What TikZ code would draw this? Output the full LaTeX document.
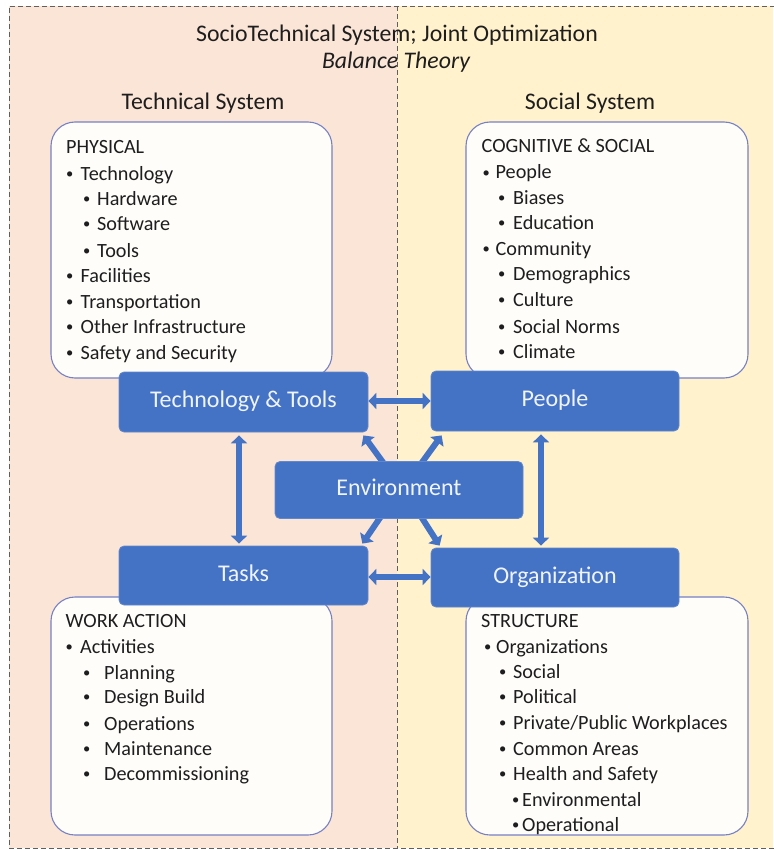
\documentclass[tikz,border=0pt]{standalone}
\usepackage{fontspec}
\setmainfont{Carlito}
\usetikzlibrary{arrows.meta,calc}
\definecolor{peach}{RGB}{251,229,214}
\definecolor{cream}{RGB}{255,242,204}
\definecolor{bblue}{RGB}{68,114,196}
\definecolor{bedge}{RGB}{96,136,206}
\definecolor{btxt}{RGB}{240,244,252}
\definecolor{wbord}{RGB}{118,128,196}
\definecolor{wfill}{RGB}{255,253,250}
\definecolor{txt}{RGB}{30,30,30}
\definecolor{dgray}{RGB}{95,95,95}
\pgfdeclarelayer{back}
\pgfdeclarelayer{mid}
\pgfsetlayers{back,mid,main}
\newcommand\smallbul{\raisebox{1.6pt}{\scalebox{0.72}{\textbullet}}}
\newcommand\listline[5]{\node[lt] (#1) at (#2,#3) {\makebox[#4pt][l]{\hspace{1pt}\smallbul}#5};}
\begin{document}
\begin{tikzpicture}[x=1pt,y=-1pt,
  wbox/.style={draw=wbord, line width=1.1pt, fill=wfill, rounded corners=24pt, inner sep=0pt},
  bbox/.style={draw=bedge, line width=0.8pt, fill=bblue, rounded corners=5pt, text=btxt,
    font=\fontsize{24}{27}\selectfont, inner sep=0pt, text height=15pt, text depth=4pt},
  lt/.style={anchor=base west, inner sep=0pt, text=txt, font=\fontsize{20.2}{24}\selectfont},
  ttl/.style={anchor=base, inner sep=0pt, text=txt, font=\fontsize{23.8}{27}\selectfont},
  hdr/.style={anchor=base, inner sep=0pt, text=txt, font=\fontsize{23.8}{27}\selectfont},
  barrow/.style={draw=bblue, line width=6pt, {Triangle[length=8pt,width=16pt]}-{Triangle[length=8pt,width=16pt]}},
  sarrow/.style={draw=bblue, line width=6pt, -{Triangle[length=8pt,width=16pt]}},
  dsh/.style={draw=dgray, line width=0.8pt, dash pattern=on 5pt off 3pt}]
\useasboundingbox (0,0) rectangle (773,850);
\begin{pgfonlayer}{back}
\fill[white] (0,0) rectangle (773,850);
\fill[peach] (9,6) rectangle (397,848);
\fill[cream] (397,6) rectangle (773,848);
\draw[dsh] (775,6) -- (9,6) -- (9,848) -- (775,848);
\draw[dsh] (397,6) -- (397,848);
\node[wbox, minimum width=281pt, minimum height=256pt] (phys) at (191.5,250) {};
\node[wbox, minimum width=282pt, minimum height=256pt] (cogn) at (607,250) {};
\node[wbox, minimum width=281pt, minimum height=238pt] (work) at (191.5,716) {};
\node[wbox, minimum width=282pt, minimum height=238pt] (struc) at (607,716) {};
\end{pgfonlayer}

% titles
\node[ttl] (title) at (397,41.5) {SocioTechnical System; Joint Optimization};
\node[ttl, font=\fontsize{23.8}{27}\selectfont\itshape] (bal) at (396,68.5) {Balance Theory};
\node[hdr] (techsys) at (203,110) {Technical System};
\node[hdr] (socsys) at (590,110) {Social System};

% blue boxes
\node[bbox, minimum width=249pt, minimum height=60pt] (tech) at (243.5,402) {Technology \& Tools};
\node[bbox, minimum width=248pt, minimum height=60pt] (people) at (555,401) {People};
\node[bbox, minimum width=248pt, minimum height=57pt] (env) at (399,490) {Environment};
\node[bbox, minimum width=249pt, minimum height=59pt] (tasks) at (243.5,575.5) {Tasks};
\node[bbox, minimum width=248pt, minimum height=59pt] (org) at (555,577.5) {Organization};

% arrows
\begin{pgfonlayer}{mid}
\draw[barrow] (tech.east |- 0,401) -- (people.west |- 0,401);
\draw[barrow] (tasks.east |- 0,577) -- (org.west |- 0,577);
\draw[barrow] ($(tech.south)+(-4.5,3)$) -- ($(tasks.north)+(-4.5,-2)$);
\draw[barrow] ($(people.south)+(-14,3)$) -- ($(org.north)+(-14,-2)$);
\draw[sarrow] ($(env.north)+(-14,4)$) -- ($(tech.south east)+(-5,3)$);
\draw[sarrow] ($(env.north)+(21,4)$) -- ($(people.south west)+(11,4)$);
\draw[sarrow] ($(env.south)+(-17,-4)$) -- ($(tasks.north east)+(-6,-2)$);
\draw[sarrow] ($(env.south)+(21,-4)$) -- ($(org.north west)+(9,-2)$);
\end{pgfonlayer}

% top-left list
\node[lt] (physh) at (66,153.5) {PHYSICAL};
\listline{p1}{65}{180.5}{15.5}{Technology}
\listline{p2}{82}{205.5}{15}{Hardware}
\listline{p3}{82}{230.5}{15}{Software}
\listline{p4}{82}{257.5}{15}{Tools}
\listline{p5}{65}{282.5}{15.5}{Facilities}
\listline{p6}{65}{308.5}{15.5}{Transportation}
\listline{p7}{65}{333.5}{15.5}{Other Infrastructure}
\listline{p8}{65}{359.5}{15.5}{Safety and Security}

% top-right list
\node[lt] (cognh) at (481.5,152.5) {COGNITIVE \& SOCIAL};
\listline{c1}{481.5}{179}{14}{People}
\listline{c2}{497}{204.5}{16}{Biases}
\listline{c3}{497}{229.5}{16}{Education}
\listline{c4}{481.5}{255.5}{14}{Community}
\listline{c5}{497}{280.5}{16}{Demographics}
\listline{c6}{497}{306.5}{16}{Culture}
\listline{c7}{497}{333}{16}{Social Norms}
\listline{c8}{497}{358}{16}{Climate}

% bottom-left list
\node[lt] (workh) at (65.5,627) {WORK ACTION};
\listline{w1}{64.5}{653}{15.5}{Activities}
\listline{w2}{82}{679}{22}{Planning}
\listline{w3}{82}{703.5}{22}{Design Build}
\listline{w4}{82}{730}{22}{Operations}
\listline{w5}{82}{755.5}{22}{Maintenance}
\listline{w6}{82}{780.5}{22}{Decommissioning}

% bottom-right list
\node[lt] (struch) at (481,627.5) {STRUCTURE};
\listline{s1}{483}{653.5}{13}{Organizations}
\listline{s2}{498}{678.5}{15}{Social}
\listline{s3}{498}{703.5}{15}{Political}
\listline{s4}{498}{729.5}{15}{Private/Public Workplaces}
\listline{s5}{498}{755.5}{15}{Common Areas}
\listline{s6}{498}{780.5}{15}{Health and Safety}
\listline{s7}{511}{806.5}{11}{Environmental}
\listline{s8}{511}{831.5}{11}{Operational}
\end{tikzpicture}
\end{document}
